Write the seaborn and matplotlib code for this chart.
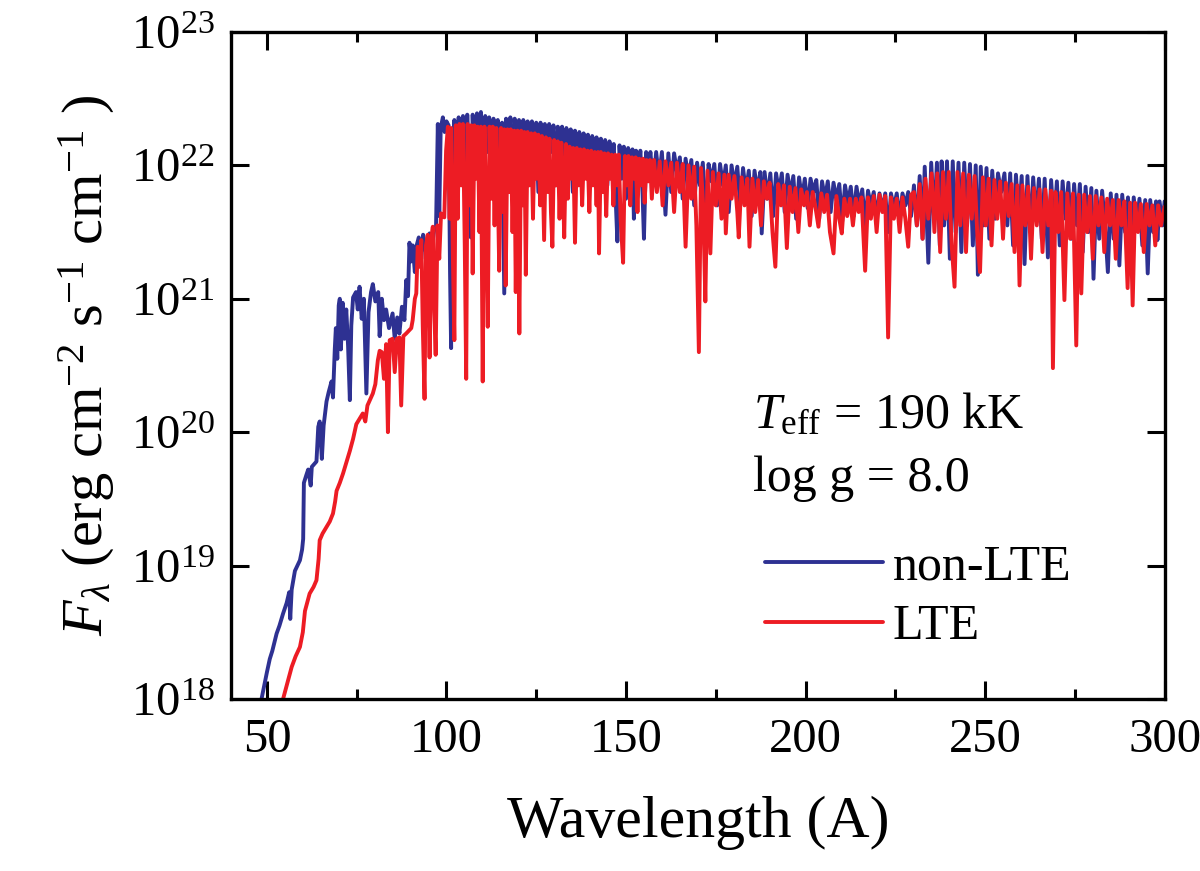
import numpy as np
import pandas as pd
import seaborn as sns
import matplotlib
matplotlib.use('Agg')
import matplotlib.pyplot as plt
from matplotlib.ticker import MultipleLocator, FixedLocator, FuncFormatter


# non-LTE model spectrum: wavelength (A) and log10 of F_lambda (erg cm-2 s-1 cm-1)
nlte_wave = [
  # steep rise below 100 A
  48.5, 50.0, 50.8, 51.5, 52.7, 53.5, 54.5, 55.5, 56.2, 56.5,
  56.9, 57.8, 58.5, 59.2, 59.8, 60.1, 60.3, 61.0, 61.5, 62.2,
  62.5, 63.8, 64.3, 64.7, 65.3, 65.8, 66.6, 67.2, 68.0, 68.4,
  68.9, 69.2, 69.6, 70.0, 70.3, 70.6, 71.1, 71.6, 72.1, 72.6,
  73.1, 73.5, 74.0, 74.8, 75.3, 75.8, 76.4, 77.0, 77.7, 78.3,
  79.0, 79.5, 80.2, 81.0, 81.4, 82.0, 82.6, 83.2, 84.0, 85.0,
  85.6, 86.3, 86.9, 87.6, 88.3, 88.8, 89.3, 89.7, 90.2, 90.6,
  91.2, 91.6, 92.3, 93.0, 93.5, 94.2, 95.3, 96.0, 96.6, 97.1,
  97.6, 98.0, 98.4, 99.0, 99.5, 100.0,
  # 100 - 157 A
  100.6, 101.0, 101.3, 101.6, 102.2, 102.8, 103.4, 104.0, 104.6, 105.2,
  105.8, 106.3, 106.8, 107.3, 107.9, 108.5, 109.0, 109.6, 110.2, 110.8,
  111.4, 111.9, 112.5, 113.1, 113.7, 114.3, 114.9, 115.5, 116.1, 116.6,
  117.2, 117.8, 118.4, 119.0, 119.6, 120.2, 120.8, 121.4, 122.0, 122.6,
  123.2, 123.8, 124.4, 125.0, 125.6, 126.2, 126.8, 127.4, 128.0, 128.6,
  129.2, 129.8, 130.4, 131.0, 131.6, 132.2, 132.8, 133.4, 134.0, 134.6,
  135.2, 135.8, 136.4, 137.0, 137.6, 138.2, 138.8, 139.4, 140.0, 140.6,
  141.2, 141.8, 142.4, 143.0, 143.6, 144.2, 144.8, 145.4, 146.0, 146.6,
  147.2, 147.6, 148.2, 148.8, 149.4, 150.0, 150.6, 151.2, 151.8, 152.2,
  152.8, 153.4, 154.0, 154.6, 155.0, 155.6, 156.2, 156.8,
  # 157 - 229 A
  157.6, 158.4, 159.2, 160.0, 161.0, 161.8, 162.6, 163.4, 164.2, 165.0,
  165.8, 166.6, 167.4, 168.2, 169.0, 169.8, 170.6, 171.4, 172.2, 173.0,
  173.8, 174.6, 175.4, 176.2, 177.0, 177.8, 178.6, 179.4, 180.2, 181.0,
  181.8, 182.6, 183.4, 184.2, 185.0, 185.8, 186.6, 187.4, 187.8, 188.6,
  189.4, 190.2, 191.0, 191.8, 192.6, 193.4, 194.2, 195.0, 195.8, 196.6,
  197.4, 198.2, 199.0, 199.8, 200.6, 201.4, 202.2, 203.0, 203.8, 204.6,
  205.4, 206.2, 207.0, 207.8, 208.6, 209.4, 210.2, 211.0, 211.8, 212.6,
  213.4, 214.2, 215.0, 215.8, 216.6, 217.4, 218.2, 219.0, 219.8, 220.6,
  221.4, 222.2, 223.0, 223.8, 224.6, 225.4, 226.2, 227.0, 227.8, 228.6,
  # 229 - 300 A
  229.4, 230.2, 231.0, 231.8, 232.6, 233.2, 234.2, 235.0, 235.8, 236.6,
  237.4, 237.9, 238.6, 239.4, 240.2, 241.0, 241.8, 242.6, 243.4, 244.2,
  245.0, 245.8, 246.6, 247.4, 248.0, 248.8, 249.6, 250.4, 251.2, 252.0,
  252.8, 253.6, 254.5, 255.4, 256.2, 257.0, 257.8, 258.6, 259.4, 260.2,
  261.0, 261.8, 262.6, 263.4, 264.2, 265.0, 265.8, 266.6, 267.5, 268.4,
  269.2, 270.0, 270.8, 271.6, 272.4, 273.2, 274.0, 274.8, 275.6, 276.4,
  277.2, 278.0, 278.8, 279.6, 280.2, 281.0, 281.8, 282.6, 283.4, 284.2,
  285.0, 285.8, 286.6, 287.4, 288.2, 289.0, 289.8, 290.6, 291.4, 292.2,
  293.0, 293.8, 294.6, 295.3, 296.0, 296.8, 297.6, 298.0, 298.6, 299.4,
  300.0,
]
nlte_logf = [
  18.00, 18.20, 18.30, 18.36, 18.49, 18.55, 18.64, 18.72, 18.80, 18.60,
  18.82, 18.96, 19.00, 19.04, 19.12, 19.20, 19.62, 19.68, 19.72, 19.60,
  19.74, 19.78, 20.04, 20.08, 19.80, 20.05, 20.23, 20.30, 20.38, 20.26,
  20.62, 20.78, 20.55, 20.95, 21.00, 20.62, 20.97, 20.70, 20.92, 20.65,
  20.24, 20.80, 21.01, 21.05, 20.92, 21.09, 20.85, 21.00, 20.29, 20.90,
  21.05, 21.11, 20.98, 21.05, 20.72, 21.00, 20.84, 20.92, 20.78, 20.89,
  20.70, 20.86, 20.74, 20.94, 20.84, 21.14, 21.02, 21.42, 21.28, 21.40,
  21.20, 21.39, 21.46, 21.30, 21.48, 21.36, 21.49, 21.40, 21.52, 21.54,
  22.31, 21.62, 22.28, 22.36, 22.25, 22.33,
  22.30, 21.20, 20.63, 22.10, 22.34, 21.90, 22.36, 22.05, 22.37, 21.95,
  22.38, 22.10, 21.46, 22.38, 22.00, 22.39, 22.15, 22.40, 21.95, 22.37,
  22.10, 22.36, 21.80, 22.35, 22.05, 22.34, 21.90, 22.32, 21.04, 22.35,
  22.00, 22.36, 21.85, 22.35, 22.10, 22.34, 21.75, 22.34, 22.05, 22.33,
  21.90, 22.33, 22.10, 22.32, 21.80, 22.32, 22.05, 22.31, 21.95, 22.31,
  22.10, 22.30, 21.85, 22.29, 22.05, 22.29, 21.90, 22.28, 22.10, 22.27,
  21.80, 22.26, 22.00, 22.25, 21.90, 22.24, 22.05, 22.23, 21.85, 22.22,
  22.00, 22.21, 21.80, 22.20, 22.00, 22.19, 21.85, 22.18, 22.02, 22.16,
  21.70, 21.43, 22.15, 21.90, 22.14, 21.75, 22.13, 21.95, 22.12, 21.60,
  22.11, 21.90, 22.11, 21.80, 21.45, 22.10, 21.95, 22.10,
  21.85, 22.10, 21.90, 22.10, 21.63, 22.09, 21.80, 22.09, 21.95, 22.06,
  21.75, 22.05, 21.90, 22.04, 21.70, 22.02, 21.85, 22.02, 21.60, 22.01,
  21.88, 22.01, 21.70, 22.01, 21.85, 22.00, 21.65, 22.00, 21.85, 21.99,
  21.70, 21.98, 21.80, 21.96, 21.62, 21.96, 21.80, 21.95, 21.49, 21.95,
  21.75, 21.94, 21.62, 21.94, 21.80, 21.94, 21.65, 21.93, 21.78, 21.92,
  21.60, 21.91, 21.75, 21.90, 21.68, 21.90, 21.80, 21.89, 21.60, 21.88,
  21.75, 21.88, 21.65, 21.87, 21.74, 21.86, 21.58, 21.85, 21.72, 21.84,
  21.62, 21.84, 21.70, 21.82, 21.55, 21.81, 21.70, 21.80, 21.60, 21.79,
  21.66, 21.79, 21.50, 21.79, 21.68, 21.79, 21.60, 21.79, 21.70, 21.80,
  21.62, 21.85, 21.55, 21.92, 21.45, 21.99, 21.27, 22.02, 21.60, 22.02,
  21.40, 22.03, 21.55, 22.03, 21.30, 22.03, 21.50, 22.02, 21.35, 22.02,
  21.55, 22.01, 21.40, 22.00, 21.18, 21.99, 21.55, 21.98, 21.45, 21.96,
  21.60, 21.94, 21.80, 21.94, 21.55, 21.94, 21.40, 21.93, 21.60, 21.92,
  21.26, 21.92, 21.50, 21.91, 21.60, 21.90, 21.45, 21.90, 21.31, 21.89,
  21.55, 21.88, 21.40, 21.88, 21.60, 21.87, 21.45, 21.86, 21.55, 21.86,
  21.35, 21.84, 21.50, 21.83, 21.15, 21.81, 21.45, 21.81, 21.55, 21.20,
  21.79, 21.45, 21.78, 21.25, 21.78, 21.50, 21.76, 21.30, 21.76, 21.55,
  21.75, 21.40, 21.74, 21.19, 21.74, 21.50, 21.73, 21.44, 21.73, 21.55,
  21.73,
]

# LTE model spectrum
lte_wave = [
  # rise below 100 A
  54.5, 55.5, 56.9, 58.0, 59.2, 60.0, 60.6, 61.9, 63.0, 63.8,
  64.4, 64.7, 65.5, 66.6, 67.5, 68.4, 69.0, 69.4, 70.3, 71.2,
  72.2, 73.1, 74.0, 74.9, 75.8, 76.7, 77.4, 78.0, 79.5, 80.2,
  80.9, 81.4, 82.0, 82.6, 83.2, 83.7, 84.2, 85.0, 85.6, 86.2,
  86.9, 87.4, 88.0, 88.8, 89.5, 90.2, 90.6, 91.2, 91.6, 92.0,
  92.5, 93.0, 93.4, 93.9, 94.3, 94.8, 95.3, 95.8, 96.2, 96.6,
  97.0, 97.5, 98.0, 98.5, 99.0, 99.4, 99.9, 100.4,
  # 100 - 157 A
  100.9, 101.3, 101.8, 102.2, 102.6, 103.1, 103.6, 104.1, 104.6, 105.1,
  105.5, 105.9, 106.4, 106.9, 107.3, 107.8, 108.2, 108.7, 109.2, 109.6,
  110.1, 110.6, 111.1, 111.5, 112.0, 112.5, 112.9, 113.4, 113.9, 114.3,
  114.7, 115.2, 115.7, 116.1, 116.5, 117.0, 117.5, 117.9, 118.4, 118.9,
  119.3, 119.8, 120.3, 120.8, 121.2, 121.7, 122.1, 122.6, 123.1, 123.6,
  124.1, 124.6, 125.1, 125.6, 126.1, 126.6, 127.2, 127.7, 128.2, 128.7,
  129.1, 129.5, 130.0, 130.5, 131.0, 131.5, 132.0, 132.4, 132.8, 133.3,
  133.8, 134.3, 134.8, 135.3, 135.8, 136.3, 136.8, 137.3, 137.8, 138.3,
  138.8, 139.3, 139.8, 140.3, 140.8, 141.3, 141.8, 142.2, 142.5, 143.0,
  143.5, 144.0, 144.5, 145.0, 145.5, 146.0, 146.5, 147.0, 147.5, 148.0,
  148.5, 149.2, 149.7, 150.2, 150.7, 151.2, 151.7, 152.2, 152.7, 153.2,
  153.7, 154.2, 154.7, 155.2, 155.7, 156.2, 156.7,
  # 157 - 230 A
  157.2, 157.8, 158.6, 159.4, 160.2, 161.0, 161.8, 162.6, 163.4, 164.2,
  165.0, 165.8, 166.6, 167.4, 168.2, 169.0, 169.6, 170.3, 170.9, 171.5,
  172.1, 172.7, 173.5, 174.2, 175.0, 175.8, 176.6, 177.4, 177.8, 178.6,
  179.4, 180.2, 181.0, 181.4, 182.2, 183.0, 183.8, 184.4, 185.2, 186.0,
  186.8, 187.6, 188.4, 189.2, 190.0, 190.8, 191.6, 192.4, 193.2, 194.0,
  194.8, 195.6, 196.4, 197.2, 198.0, 198.8, 199.6, 200.4, 201.2, 202.0,
  202.8, 203.6, 204.4, 205.2, 206.0, 206.8, 207.8, 208.6, 209.4, 210.1,
  210.8, 211.6, 212.4, 213.2, 214.0, 214.8, 215.6, 216.6, 217.4, 218.2,
  219.0, 219.8, 220.6, 221.4, 222.2, 223.0, 223.8, 224.6, 225.4, 226.2,
  227.0, 227.8, 228.6, 229.4,
  # 230 - 300 A
  230.2, 231.0, 231.8, 232.6, 233.4, 234.2, 235.1, 235.9, 236.7, 237.5,
  238.3, 239.1, 239.9, 240.7, 241.5, 242.3, 243.1, 243.9, 244.7, 245.5,
  246.3, 247.1, 247.9, 248.6, 249.4, 250.2, 251.0, 251.8, 252.6, 253.4,
  254.2, 255.0, 255.8, 256.6, 257.4, 258.2, 259.0, 259.6, 260.4, 261.2,
  262.0, 262.8, 263.6, 264.4, 265.2, 266.0, 266.8, 267.6, 268.4, 268.9,
  269.6, 270.4, 271.2, 272.1, 272.9, 273.7, 274.5, 275.4, 276.1, 276.8,
  277.6, 278.4, 279.2, 280.0, 280.8, 281.6, 282.4, 283.2, 284.0, 284.8,
  285.6, 286.4, 287.2, 288.0, 288.8, 289.7, 290.4, 291.1, 291.8, 292.6,
  293.4, 294.2, 295.0, 295.8, 296.6, 297.4, 298.2, 299.0, 300.0,
]
lte_logf = [
  18.00, 18.10, 18.24, 18.32, 18.39, 18.50, 18.66, 18.79, 18.84, 18.89,
  19.05, 19.19, 19.24, 19.29, 19.33, 19.39, 19.48, 19.56, 19.62, 19.69,
  19.78, 19.86, 19.95, 20.06, 20.10, 20.14, 20.08, 20.20, 20.29, 20.36,
  20.54, 20.61, 20.60, 20.40, 20.66, 20.00, 20.69, 20.70, 20.45, 20.70,
  20.71, 20.20, 20.72, 20.74, 20.76, 20.78, 20.84, 21.00, 21.04, 21.39,
  21.24, 21.44, 20.80, 20.25, 21.40, 21.48, 20.56, 21.45, 21.54, 20.90,
  20.58, 21.55, 21.30, 21.64, 21.62, 21.61, 22.11, 22.29,
  21.60, 22.28, 21.30, 20.69, 22.30, 21.60, 22.31, 21.85, 22.31, 21.40,
  20.40, 22.31, 21.70, 22.30, 21.19, 22.30, 21.90, 22.29, 21.50, 22.29,
  20.38, 22.29, 21.60, 20.79, 22.29, 21.75, 22.29, 21.55, 22.28, 21.85,
  21.21, 22.28, 21.65, 22.27, 21.10, 22.27, 21.80, 22.27, 21.50, 22.26,
  21.05, 22.26, 20.74, 22.26, 21.70, 22.25, 21.18, 22.25, 21.85, 22.24,
  21.60, 22.24, 21.90, 22.23, 21.70, 22.22, 21.44, 22.21, 21.80, 22.20,
  21.65, 21.39, 22.19, 21.85, 22.18, 21.60, 22.17, 21.90, 21.46, 22.16,
  21.75, 22.14, 21.90, 22.13, 21.42, 22.13, 21.85, 22.12, 21.70, 22.12,
  21.90, 22.11, 21.65, 22.11, 21.85, 22.10, 21.70, 22.10, 21.34, 22.10,
  21.80, 22.09, 21.62, 22.09, 21.90, 22.08, 21.70, 22.08, 21.85, 22.08,
  21.60, 21.27, 22.07, 21.85, 22.07, 21.70, 22.06, 21.90, 22.06, 21.65,
  22.05, 21.85, 22.05, 21.72, 22.04, 21.88, 22.04,
  21.75, 22.04, 21.80, 22.03, 21.70, 22.03, 21.85, 22.02, 21.65, 22.02,
  21.80, 22.01, 21.39, 22.00, 21.75, 21.99, 21.55, 20.60, 21.98, 21.70,
  20.98, 21.96, 21.34, 21.95, 21.70, 21.94, 21.60, 21.93, 21.49, 21.93,
  21.75, 21.92, 21.65, 21.46, 21.91, 21.70, 21.90, 21.39, 21.90, 21.65,
  21.89, 21.55, 21.88, 21.75, 21.87, 21.50, 21.24, 21.86, 21.70, 21.85,
  21.38, 21.84, 21.65, 21.83, 21.50, 21.82, 21.70, 21.80, 21.55, 21.80,
  21.68, 21.54, 21.79, 21.65, 21.78, 21.50, 21.34, 21.77, 21.60, 21.49,
  21.75, 21.62, 21.75, 21.55, 21.75, 21.65, 21.76, 21.21, 21.76, 21.60,
  21.77, 21.50, 21.78, 21.65, 21.77, 20.71, 21.76, 21.60, 21.75, 21.50,
  21.76, 21.60, 21.39, 21.78,
  21.80, 21.55, 21.86, 21.45, 21.90, 21.60, 21.94, 21.50, 21.94, 21.35,
  21.95, 21.60, 21.95, 21.40, 21.09, 21.95, 21.55, 21.94, 21.35, 21.93,
  21.60, 21.92, 21.45, 21.20, 21.91, 21.55, 21.90, 21.40, 21.89, 21.60,
  21.88, 21.45, 21.87, 21.62, 21.86, 21.35, 21.85, 21.10, 21.85, 21.55,
  21.84, 21.30, 21.83, 21.55, 21.82, 21.35, 21.82, 21.55, 21.81, 20.48,
  21.80, 21.50, 21.80, 20.99, 21.79, 21.45, 21.79, 20.65, 21.78, 21.04,
  21.78, 21.50, 21.77, 21.30, 21.77, 21.55, 21.76, 21.35, 21.75, 21.55,
  21.74, 21.30, 21.74, 21.55, 21.73, 21.08, 21.72, 20.95, 21.72, 21.50,
  21.71, 21.35, 21.71, 21.55, 21.70, 21.40, 21.70, 21.55, 21.69,
]

assert len(nlte_wave) == len(nlte_logf)
assert len(lte_wave) == len(lte_logf)

series_labels = ['non-LTE', 'LTE']
series_colors = ['#2e3192', '#ed1c24']


# Build one long table for seaborn
df = pd.concat([
  pd.DataFrame({'wave': nlte_wave, 'flux': np.power(10.0, nlte_logf), 'model': 'non-LTE'}),
  pd.DataFrame({'wave': lte_wave,  'flux': np.power(10.0, lte_logf),  'model': 'LTE'}),
], ignore_index=True)

sns.set_style('ticks')
plt.rcParams['font.family'] = ['Liberation Serif', 'DejaVu Serif']
plt.rcParams['mathtext.fontset'] = 'custom'
plt.rcParams['mathtext.rm'] = 'Liberation Serif'
plt.rcParams['mathtext.it'] = 'Liberation Serif:italic'
plt.rcParams['mathtext.bf'] = 'Liberation Serif:bold'
for key in ['text.color', 'axes.labelcolor', 'xtick.color', 'ytick.color', 'axes.edgecolor']:
  plt.rcParams[key] = 'black'

fig = plt.figure(figsize=(12, 8.71), dpi=100)
ax = fig.add_axes([0.1925, 0.1975, 0.778, 0.7658])

sns.lineplot(data=df, x='wave', y='flux', hue='model', hue_order=series_labels,
             palette=series_colors, sort=False, estimator=None, linewidth=2.8, ax=ax)

ax.set_yscale('log')
ax.set_xlim(40, 300)
ax.set_ylim(1e18, 1e23)

# ticks: inside, on all four sides
ax.xaxis.set_major_locator(MultipleLocator(50))
ax.xaxis.set_minor_locator(MultipleLocator(25))
ax.yaxis.set_major_locator(FixedLocator([1e18, 1e19, 1e20, 1e21, 1e22, 1e23]))
ax.yaxis.set_minor_locator(FixedLocator([]))
ax.yaxis.set_major_formatter(FuncFormatter(lambda v, p: r'$10^{%d}$' % round(np.log10(v))))
ax.tick_params(which='both', direction='in', top=True, right=True, width=2.2, colors='black')
ax.tick_params(which='major', length=13, labelsize=35)
ax.tick_params(which='minor', length=7)
ax.tick_params(axis='x', which='major', pad=14)
ax.tick_params(axis='y', which='major', pad=12)
for s in ax.spines.values():
  s.set_linewidth(2.4)
  s.set_color('black')

ax.set_xlabel('Wavelength (A)', fontsize=43, labelpad=24)
ax.set_ylabel(r'$F_{\lambda}$ (erg cm$^{-2}$ s$^{-1}$ cm$^{-1}$ )', fontsize=42, labelpad=10)

ax.text(185.5, 10**20.03, r'$T_{\rm eff}$ = 190 kK', fontsize=36, va='baseline')
ax.text(185.5, 10**19.56, 'log g = 8.0', fontsize=36, va='baseline')

ax.legend(loc='upper left', bbox_to_anchor=(0.572, 0.232), frameon=False, fontsize=36,
          handlelength=2.35, handletextpad=0.2, labelspacing=0.26, borderpad=0, borderaxespad=0)

plt.savefig('out.png', dpi=100)
